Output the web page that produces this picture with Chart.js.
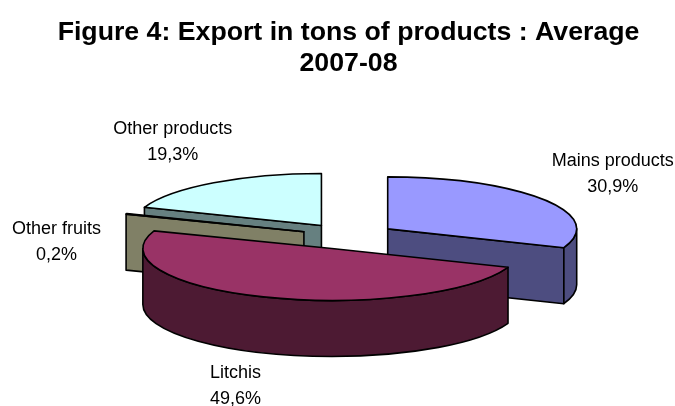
<!DOCTYPE html>
<html>
<head>
<meta charset="utf-8">
<title>Export in tons of products</title>
<script src="https://cdn.jsdelivr.net/npm/chart.js@4"></script>
<style>
  html, body { margin: 0; padding: 0; background: #fff; overflow: hidden; }
  #wrap { width: 675px; height: 406px; }
</style>
</head>
<body>
<div id="wrap"><canvas id="pieChart"></canvas></div>
<script>
const categories = ["Mains products", "Litchis", "Other fruits", "Other products"];
const shares = [30.9, 49.6, 0.2, 19.3];
const topColors = ["#9999FF", "#993366", "#FFFFCC", "#CCFFFF"];
const sideColors = ["#4D4D80", "#4D1A33", "#808066", "#668080"];

// tilt of the pie and height of its wall
const squash = 0.275;
const depth = 56;
// label centre relative to the slice rim point
const labelNudge = [[69, -25], [-30, 89], [-70, 28], [-41, -41]];
// back slices first so the front ones overlap them
const drawOrder = [3, 2, 0, 1];

function sliceCentre(arc, offset) {
  const mid = (arc.startAngle + arc.endAngle) / 2;
  return {
    x: arc.x + Math.cos(mid) * offset,
    y: arc.y + Math.sin(mid) * offset * squash,
  };
}

function rimPoint(c, r, angle) {
  return { x: c.x + Math.cos(angle) * r, y: c.y + Math.sin(angle) * r * squash };
}

function radialWall(ctx, c, r, angle, color) {
  const p = rimPoint(c, r, angle);
  ctx.beginPath();
  ctx.moveTo(c.x, c.y);
  ctx.lineTo(p.x, p.y);
  ctx.lineTo(p.x, p.y + depth);
  ctx.lineTo(c.x, c.y + depth);
  ctx.closePath();
  ctx.fillStyle = color;
  ctx.fill();
  ctx.stroke();
}

function drawSlice(ctx, arc, side) {
  const c = sliceCentre(arc, arc.options.offset / 4);
  const r = arc.outerRadius;
  const a = arc.startAngle;
  const b = arc.endAngle;
  ctx.lineWidth = 1.6;
  ctx.strokeStyle = "#000";
  ctx.lineJoin = "round";

  // flat cut sides, only the ones turned to the viewer
  if (Math.cos(a) < -0.001) radialWall(ctx, c, r, a, side);
  if (Math.cos(b) > 0.001) radialWall(ctx, c, r, b, side);

  // curved wall on the lower half of the ellipse
  const from = Math.max(a, 0);
  const to = Math.min(b, Math.PI);
  if (to > from) {
    ctx.beginPath();
    ctx.ellipse(c.x, c.y, r, r * squash, 0, from, to);
    ctx.ellipse(c.x, c.y + depth, r, r * squash, 0, to, from, true);
    ctx.closePath();
    ctx.fillStyle = side;
    ctx.fill();
    ctx.stroke();
  }

  // top face
  ctx.beginPath();
  ctx.moveTo(c.x, c.y);
  ctx.ellipse(c.x, c.y, r, r * squash, 0, a, b);
  ctx.closePath();
  ctx.fillStyle = arc.options.backgroundColor;
  ctx.fill();
  ctx.stroke();
}

const pie3d = {
  id: "pie3d",
  beforeDatasetsDraw(chart) {
    const ctx = chart.ctx;
    const arcs = chart.getDatasetMeta(0).data;
    ctx.save();
    drawOrder.forEach((i) => drawSlice(ctx, arcs[i], sideColors[i]));

    ctx.fillStyle = "#000";
    ctx.font = "18px 'Liberation Sans'";
    ctx.textAlign = "center";
    ctx.textBaseline = "middle";
    arcs.forEach((arc, i) => {
      const mid = (arc.startAngle + arc.endAngle) / 2;
      const rim = rimPoint(sliceCentre(arc, arc.options.offset / 4), arc.outerRadius, mid);
      const x = rim.x + labelNudge[i][0];
      const y = rim.y + labelNudge[i][1];
      const pct = shares[i].toFixed(1).replace(".", ",") + "%";
      ctx.fillText(categories[i], x, y - 13);
      ctx.fillText(pct, x, y + 13);
    });
    ctx.restore();
    return false;
  },
};

new Chart(document.getElementById("pieChart"), {
  type: "pie",
  data: {
    labels: categories,
    datasets: [
      {
        data: shares,
        backgroundColor: topColors,
        offset: 190,
        radius: 189,
        borderWidth: 0,
      },
    ],
  },
  options: {
    responsive: true,
    maintainAspectRatio: false,
    animation: false,
    layout: { padding: { left: 22, bottom: 13 } },
    plugins: {
      legend: { display: false },
      tooltip: { enabled: false },
      title: {
        display: true,
        text: ["Figure 4: Export in tons of products : Average", "2007-08"],
        color: "#000",
        font: { family: "'Liberation Sans'", size: 26.7, weight: "bold", lineHeight: 1.17 },
        padding: { top: 17, bottom: 0 },
      },
    },
  },
  plugins: [pie3d],
});
</script>
</body>
</html>
